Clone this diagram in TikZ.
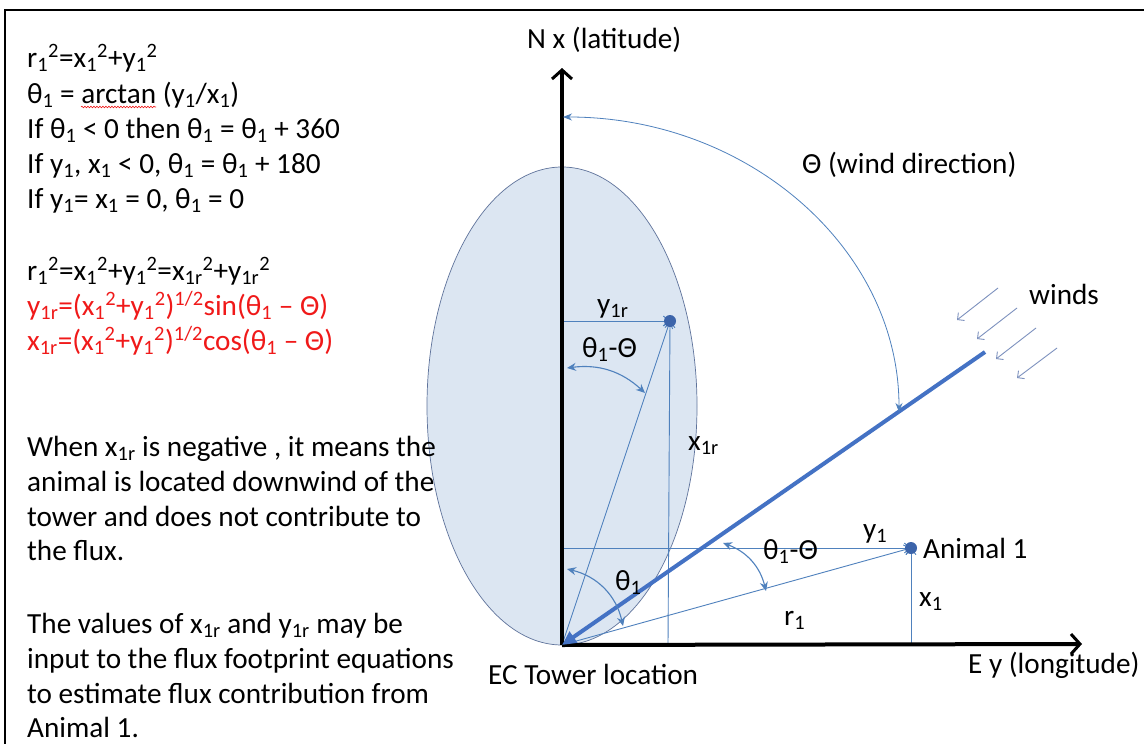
\documentclass[tikz,border=0pt]{standalone}
\usepackage{fontspec}
\setmainfont{Carlito}
\usetikzlibrary{arrows.meta,decorations.pathmorphing}
\definecolor{obl}{RGB}{68,114,196}
\definecolor{thinb}{RGB}{79,129,189}
\definecolor{efill}{RGB}{220,230,242}
\definecolor{estroke}{RGB}{95,115,155}
\definecolor{windc}{RGB}{125,145,190}
\definecolor{redt}{RGB}{240,25,25}
\definecolor{dotc}{RGB}{60,100,170}
\newcommand{\sbs}[1]{\textsubscript{#1}}
\newcommand{\sps}[1]{\textsuperscript{#1}}
\tikzset{
  txt/.style={anchor=base west, inner sep=0pt, font=\fontsize{29.2}{35}\selectfont},
  rtxt/.style={txt, text=redt},
  axisline/.style={line width=4pt, black, -{Straight Barb[length=9pt,width=20pt,line width=3pt]}},
  windline/.style={line width=4pt, obl, -{Triangle[length=14pt,width=13pt]}},
  thinline/.style={line width=0.9pt, thinb, -{Straight Barb[length=6pt,width=10pt]}},
  anglearc/.style={line width=1.1pt, thinb, {Stealth[length=9pt,width=8pt]}-{Stealth[length=9pt,width=8pt]}},
  bigarc/.style={line width=0.8pt, thinb, {Stealth[length=9pt,width=7pt]}-{Stealth[length=9pt,width=7pt]}},
  windarrow/.style={line width=0.9pt, windc, -{Straight Barb[length=5pt,width=10pt]}},
}
\begin{document}
\begin{tikzpicture}[x=1pt,y=-1pt]
\useasboundingbox (0,0) rectangle (1144,744);
\fill[white] (0,0) rectangle (1144,744);
\draw[line width=2.5pt, black] (5,744) -- (5,10) -- (1144,10);

% ellipse footprint
\draw[fill=efill, draw=estroke, line width=0.7pt] (562,406) ellipse [x radius=135pt, y radius=239pt];

% coordinates
\coordinate (O) at (562,645);
\coordinate (NT) at (562,68);
\coordinate (ET) at (1082,644);
\coordinate (A) at (911,548);
\coordinate (R) at (670,321);
\coordinate (W) at (985,352);
\coordinate (Y1s) at (562,548);
\coordinate (X1s) at (911,645);
\coordinate (Y1rs) at (562,321);
\coordinate (X1rs) at (668,645);

% thin construction lines
\draw[thinline] (Y1s) -- (A);
\draw[thinline] (X1s) -- (A);
\draw[thinline] (O) -- (A);
\draw[thinline] (Y1rs) -- (R);
\draw[thinline] (X1rs) -- (R);
\draw[thinline] (O) -- (R);

% axes
\draw[axisline] (O) -- (NT);
\draw[axisline] (O) -- (ET);

% wind direction line
\draw[windline] (W) -- (O);

% angle arcs
\coordinate (TA) at (563,117);
\draw[bigarc] (TA) arc[start angle=90, end angle=0, x radius=336pt, y radius=295pt];
\coordinate (L1) at (723,543);
\coordinate (L2) at (766,591);
\draw[anglearc] (L1) to[bend left=28] (L2);
\coordinate (M1) at (567,569);
\coordinate (M2) at (623,626);
\draw[anglearc] (M1) to[bend left=32] (M2);
\coordinate (U1) at (567,368);
\coordinate (U2) at (645,393);
\draw[anglearc] (U1) to[bend left=25] (U2);

% wind arrows
\coordinate (wa1) at (998,288); \coordinate (wb1) at (957,320);
\coordinate (wa2) at (1017,308); \coordinate (wb2) at (977,339);
\coordinate (wa3) at (1036,328); \coordinate (wb3) at (996,359);
\coordinate (wa4) at (1057,348); \coordinate (wb4) at (1017,378);
\draw[windarrow] (wa1) -- (wb1);
\draw[windarrow] (wa2) -- (wb2);
\draw[windarrow] (wa3) -- (wb3);
\draw[windarrow] (wa4) -- (wb4);

% points
\fill[dotc] (A) circle (6pt);
\fill[dotc] (R) circle (6pt);

% diagram labels
\node[txt] (nlab) at (527,48) {N x (latitude)};
\node[txt] (wdir) at (802,173) {Θ (wind direction)};
\node[txt] (winds) at (1029,304) {winds};
\node[txt] (ly1r) at (597,313) {y\sbs{1r}};
\node[txt] (lup) at (582,357) {θ\sbs{1}-Θ};
\node[txt] (lx1r) at (688,450) {x\sbs{1r}};
\node[txt] (ly1) at (863,538) {y\sbs{1}};
\node[txt] (llow) at (763,559) {θ\sbs{1}-Θ};
\node[txt] (lth) at (615,590) {θ\sbs{1}};
\node[txt] (lanim) at (923,558) {Animal 1};
\node[txt] (lx1) at (919,606) {x\sbs{1}};
\node[txt] (lr1) at (784,625) {r\sbs{1}};
\node[txt] (ltower) at (488,684) {EC Tower location};
\node[txt] (lE) at (968,673) {E y (longitude)};

% left text
\node[txt] (t1) at (27,67) {r\sbs{1}\sps{2}=x\sbs{1}\sps{2}+y\sbs{1}\sps{2}};
\node[txt] (t2) at (27,103) {θ\sbs{1} = arctan (y\sbs{1}/x\sbs{1})};
\node[txt] (t3) at (27,138) {If θ\sbs{1} < 0 then θ\sbs{1} = θ\sbs{1} + 360};
\node[txt] (t4) at (27,173) {If y\sbs{1}, x\sbs{1} < 0, θ\sbs{1} = θ\sbs{1} + 180};
\node[txt] (t5) at (27,208) {If y\sbs{1}= x\sbs{1} = 0, θ\sbs{1} = 0};
\node[txt] (t6) at (27,280) {r\sbs{1}\sps{2}=x\sbs{1}\sps{2}+y\sbs{1}\sps{2}=x\sbs{1r}\sps{2}+y\sbs{1r}\sps{2}};
\node[rtxt] (t7) at (27,315) {y\sbs{1r}=(x\sbs{1}\sps{2}+y\sbs{1}\sps{2})\sps{1/2}sin(θ\sbs{1} – Θ)};
\node[rtxt] (t8) at (27,350) {x\sbs{1r}=(x\sbs{1}\sps{2}+y\sbs{1}\sps{2})\sps{1/2}cos(θ\sbs{1} – Θ)};
\coordinate (sq1) at (81,107);
\coordinate (sq2) at (156,107);
\draw[redt, line width=0.6pt, decorate, decoration={snake, amplitude=0.8pt, segment length=3pt}] (sq1) -- (sq2);

\node[txt] (b1) at (27,456) {When x\sbs{1r} is negative , it means the};
\node[txt] (b2) at (27,491) {animal is located downwind of the};
\node[txt] (b3) at (27,526) {tower and does not contribute to};
\node[txt] (b4) at (27,560) {the flux.};
\node[txt] (c1) at (27,633) {The values of x\sbs{1r} and y\sbs{1r} may be};
\node[txt] (c2) at (27,668) {input to the flux footprint equations};
\node[txt] (c3) at (27,703) {to estimate flux contribution from};
\node[txt] (c4) at (27,737) {Animal 1.};
\end{tikzpicture}
\end{document}
